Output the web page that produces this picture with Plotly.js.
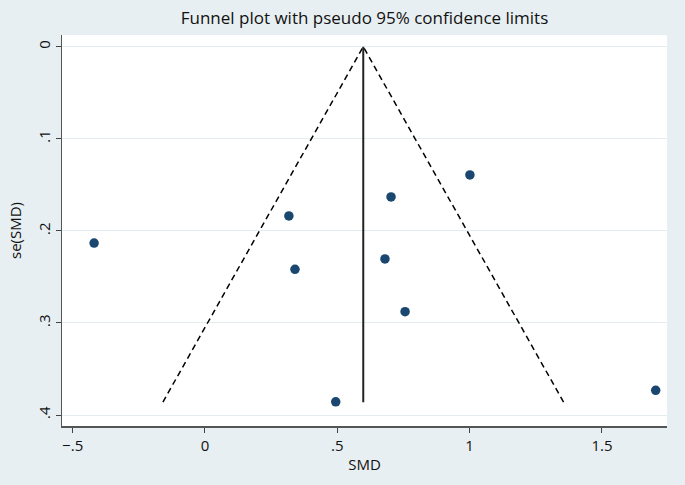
<!DOCTYPE html>
<html>
<head>
<meta charset="utf-8">
<script src="https://cdn.plot.ly/plotly-3.0.1.min.js"></script>
<style>html,body{margin:0;padding:0;background:#e8eff2;}</style>
</head>
<body>
<div id="chart" style="width:685px;height:485px;"></div>
<script>
// Study estimates
var smd = [-0.419, 0.317, 0.340, 0.703, 0.680, 0.756, 1.001, 0.494, 1.703];
var seSmd = [0.2132, 0.1838, 0.2418, 0.1632, 0.2305, 0.2877, 0.1393, 0.3856, 0.3731];
// Pseudo 95% confidence limits (funnel) and pooled estimate line
var funnelX = [-0.159, 0.598, 1.355];
var funnelY = [0.386, 0, 0.386];
var pooledX = [0.598, 0.598];
var pooledY = [0, 0.386];
// Tick labels
var xTickVals = [-0.5, 0, 0.5, 1, 1.5];
var xTickText = ['\u2212.5', '0', '.5', '1', '1.5'];
var yTickVals = [0, 0.1, 0.2, 0.3, 0.4];
var yTickText = ['0', '.1', '.2', '.3', '.4'];

var font = "'Open Sans', 'Noto Sans', sans-serif";

var traces = [
  {x: funnelX, y: funnelY, type: 'scatter', mode: 'lines',
   line: {color: '#000000', width: 1.5, dash: '6px,4px'}, hoverinfo: 'skip'},
  {x: pooledX, y: pooledY, type: 'scatter', mode: 'lines',
   line: {color: '#222222', width: 2}, hoverinfo: 'skip'},
  {x: smd, y: seSmd, type: 'scatter', mode: 'markers',
   marker: {color: '#1a476f', size: 9.5}}
];

var layout = {
  width: 685, height: 485,
  paper_bgcolor: '#e8eff2', plot_bgcolor: '#ffffff',
  showlegend: false,
  margin: {l: 62, r: 18, t: 35, b: 59},
  font: {family: font, color: '#111111', size: 14},
  title: {text: 'Funnel plot with pseudo 95% confidence limits',
          font: {family: font, size: 17, color: '#111111'},
          x: 0.5, xref: 'paper', y: 0.962, yref: 'container', yanchor: 'middle'},
  xaxis: {
    range: [-0.5403, 1.7457],
    tickvals: xTickVals, ticktext: xTickText,
    ticks: 'outside', ticklen: 5, tickwidth: 1, tickcolor: '#444444',
    showline: true, linecolor: '#555555', linewidth: 1.5,
    showgrid: false, zeroline: false,
    tickfont: {family: font, size: 15, color: '#111111'},
    title: {text: 'SMD', font: {family: font, size: 15, color: '#111111'}, standoff: 6}
  },
  yaxis: {
    range: [0.4119, -0.0127],
    tickvals: yTickVals, ticktext: yTickText, tickangle: -90,
    ticks: 'outside', ticklen: 5, tickwidth: 1, tickcolor: '#444444',
    showline: true, linecolor: '#555555', linewidth: 1.5,
    showgrid: true, gridcolor: '#e3ecef', gridwidth: 1, zeroline: false,
    tickfont: {family: font, size: 15, color: '#111111'},
    title: {text: 'se(SMD)', font: {family: font, size: 15, color: '#111111'}, standoff: 8}
  }
};

Plotly.newPlot('chart', traces, layout, {displayModeBar: false, staticPlot: true});
</script>
</body>
</html>
